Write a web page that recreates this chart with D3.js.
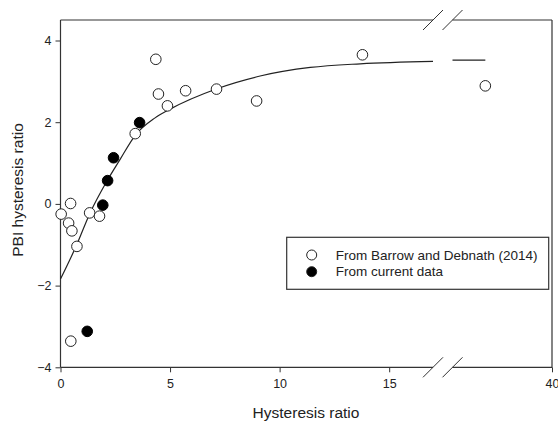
<!DOCTYPE html>
<html><head><meta charset="utf-8">
<script src="https://cdn.jsdelivr.net/npm/d3@7"></script>
<style>body{margin:0;background:#fff;} text{font-family:"Liberation Sans",Arial,sans-serif;fill:#222;}</style>
</head><body>
<svg id="c" width="558" height="424"></svg>
<script>
// Data
const barrowX = [4.35, 4.47, 4.88, 5.71, 7.12, 8.95, 13.78, 3.41, 0.46, 0.03, 0.37, 0.52, 0.75, 1.33, 1.78, 0.47, 33.3];
const barrowY = [3.54, 2.69, 2.40, 2.77, 2.81, 2.52, 3.65, 1.72, 0.01, -0.25, -0.47, -0.66, -1.04, -0.22, -0.30, -3.36, 2.89];
const currentX = [1.93, 2.15, 2.42, 3.61, 1.22];
const currentY = [-0.03, 0.57, 1.13, 1.99, -3.12];
const fitX = [0, 0.7, 1.36, 2.12, 2.72, 3.41, 4.3, 5.0, 7.14, 9.11, 11.4, 13.68, 17];
const fitY = [-1.84, -1.05, -0.21, 0.56, 1.09, 1.68, 2.10, 2.32, 2.82, 3.13, 3.34, 3.43, 3.49];
const fit2X = [30, 33.3];
const fit2Y = [3.52, 3.52];
const yTicks = [-4, -2, 0, 2, 4];
const xTicks1 = [0, 5, 10, 15];
const xTicks2 = [40];
const legendLabels = ["From Barrow and Debnath (2014)", "From current data"];

const svg = d3.select("#c");
const L = 60.5, R = 552, T = 20, B = 367.3;
const brk1 = 433, brk2 = 452.5;
const x1 = d3.scaleLinear().domain([0, 17]).range([L, brk1]);
const x2 = d3.scaleLinear().domain([30, 40]).range([brk2, R]);
const y = d3.scaleLinear().domain([-4, 4.5]).range([B, B - 8.5 * 40.85]);
const xs = v => v <= 17 ? x1(v) : x2(v);
const stroke = "#333";

// y axis
const ya = svg.append("g").attr("transform", `translate(${L},0)`)
  .call(d3.axisLeft(y).tickValues(yTicks).tickSize(5).tickSizeOuter(0).tickFormat(d3.format("d")));
ya.select(".domain").remove();
ya.selectAll("line").attr("stroke", stroke);
ya.selectAll("text").attr("font-size", 12.5).attr("x", -9).style("font-family", "Liberation Sans, Arial, sans-serif").attr("fill", "#222");

// x axes
const xa1 = svg.append("g").attr("transform", `translate(0,${B})`)
  .call(d3.axisBottom(x1).tickValues(xTicks1).tickSize(5).tickSizeOuter(0));
const xa2 = svg.append("g").attr("transform", `translate(0,${B})`)
  .call(d3.axisBottom(x2).tickValues(xTicks2).tickSize(5).tickSizeOuter(0));
[xa1, xa2].forEach(a => {
  a.select(".domain").remove();
  a.selectAll("line").attr("stroke", stroke);
  a.selectAll("text").attr("font-size", 12.5).attr("y", 12).style("font-family", "Liberation Sans, Arial, sans-serif").attr("fill", "#222");
});

// frame with breaks
const frame = svg.append("g").attr("stroke", stroke).attr("stroke-width", 1.2).attr("fill", "none");
frame.append("line").attr("x1", L).attr("x2", L).attr("y1", T).attr("y2", B);
frame.append("line").attr("x1", R).attr("x2", R).attr("y1", T).attr("y2", B);
[T, B].forEach(yy => {
  frame.append("line").attr("x1", L).attr("x2", brk1).attr("y1", yy).attr("y2", yy);
  frame.append("line").attr("x1", brk2).attr("x2", R).attr("y1", yy).attr("y2", yy);
  [brk1, brk2].forEach(bx => {
    frame.append("line").attr("x1", bx - 10).attr("y1", yy + 10).attr("x2", bx + 10).attr("y2", yy - 10).attr("stroke-width", 1);
  });
});

// fitted curve
const line1 = d3.line().x(d => x1(d[0])).y(d => y(d[1])).curve(d3.curveMonotoneX);
const line2 = d3.line().x(d => x2(d[0])).y(d => y(d[1]));
svg.append("path").datum(d3.zip(fitX, fitY)).attr("d", line1).attr("fill", "none").attr("stroke", "#222").attr("stroke-width", 1.2);
svg.append("path").datum(d3.zip(fit2X, fit2Y)).attr("d", line2).attr("fill", "none").attr("stroke", "#222").attr("stroke-width", 1.2);

// points
svg.append("g").selectAll("circle").data(d3.zip(barrowX, barrowY)).join("circle")
  .attr("cx", d => xs(d[0])).attr("cy", d => y(d[1])).attr("r", 5.3)
  .attr("fill", "#fff").attr("stroke", "#222").attr("stroke-width", 1);
svg.append("g").selectAll("circle").data(d3.zip(currentX, currentY)).join("circle")
  .attr("cx", d => xs(d[0])).attr("cy", d => y(d[1])).attr("r", 5.3)
  .attr("fill", "#000").attr("stroke", "#000").attr("stroke-width", 1);

// legend
const lg = svg.append("g");
lg.append("rect").attr("x", 286.7).attr("y", 237.3).attr("width", 262).attr("height", 52)
  .attr("fill", "#fff").attr("stroke", stroke).attr("stroke-width", 1.2);
legendLabels.forEach((t, i) => {
  lg.append("circle").attr("cx", 311.7).attr("cy", 255 + i * 16.7).attr("r", 5)
    .attr("fill", i === 0 ? "#fff" : "#000").attr("stroke", "#222");
  lg.append("text").attr("x", 335.7).attr("y", 255 + i * 16.7).attr("dy", "0.35em")
    .attr("font-size", 13.5).text(t);
});

// axis titles
svg.append("text").attr("x", 306).attr("y", 418).attr("text-anchor", "middle").attr("font-size", 15.5).text("Hysteresis ratio");
svg.append("text").attr("transform", "translate(23,190) rotate(-90)").attr("text-anchor", "middle").attr("font-size", 15.5).text("PBI hysteresis ratio");
</script>
</body></html>
